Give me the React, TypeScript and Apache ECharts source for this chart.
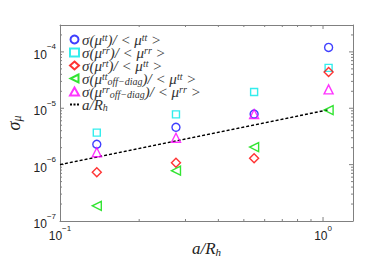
import React, { useEffect, useRef } from "react";
import * as echarts from "echarts";

const groupX = [0.138, 0.276, 0.547, 1.05];
const sigmaTT = [2.3e-6, 4.6e-6, 7.9e-6, 1.2e-4];
const sigmaRR = [3.7e-6, 7.8e-6, 1.94e-5, 5.2e-5];
const sigmaRT = [7.3e-7, 1.08e-6, 1.3e-6, 4.4e-5];
const sigmaOffTT = [1.86e-7, 7.8e-7, 2.05e-6, 9.3e-6];
const sigmaOffRR = [1.66e-6, 3.0e-6, 7.9e-6, 2.16e-5];
const lineX = [0.1, 1.05];
const lineY = [1.0e-6, 9.4e-6];

const seriesNames = ["s_tt", "s_rr", "s_rt", "s_off_tt", "s_off_rr", "a_Rh"];
const legendLabels = [
  "{n|σ(μ}{p|tt}{n|)/ < μ}{p|tt}{n| >}",
  "{n|σ(μ}{p|rr}{n|)/ < μ}{p|rr}{n| >}",
  "{n|σ(μ}{p|rt}{n|)/ < μ}{p|tt}{n| >}",
  "{n|σ(μ}{p|tt}{b|off−diag}{n|)/ < μ}{p|tt}{n| >}",
  "{n|σ(μ}{p|rr}{b|off−diag}{n|)/ < μ}{p|rr}{n| >}",
  "{n|a/R}{b|h}",
];
const xMinorTicks = [0.2, 0.3, 0.4, 0.5, 0.6, 0.7, 0.8, 0.9];
const xMajorTicks = [1];
const yMinorTicks = [
  2e-7, 3e-7, 4e-7, 5e-7, 6e-7, 7e-7, 8e-7, 9e-7,
  2e-6, 3e-6, 4e-6, 5e-6, 6e-6, 7e-6, 8e-6, 9e-6,
  2e-5, 3e-5, 4e-5, 5e-5, 6e-5, 7e-5, 8e-5, 9e-5,
  2e-4,
];
const yMajorTicks = [1e-6, 1e-5, 1e-4];

const X_MIN = 0.1;
const X_MAX = 1.3;
const Y_MIN = 1e-7;
const Y_MAX = 3e-4;

const leftTri = "path://M10,0 L0,5 L10,10 Z";
const dashIcon = "path://M0,4 L2,4 L2,6 L0,6 Z M3.5,4 L5.5,4 L5.5,6 L3.5,6 Z M7,4 L9,4 L9,6 L7,6 Z";

const isDecade = (v: number) => Math.abs(Math.log10(v) - Math.round(Math.log10(v))) < 1e-6;

export default function App() {
  const ref = useRef<HTMLDivElement>(null);
  useEffect(() => {
    if (!ref.current) return;
    const chart = echarts.init(ref.current, undefined, { renderer: "svg" });
    const pts = (ys: number[]) => groupX.map((x, i) => [x, ys[i]]);
    const axisCol = "#808080";
    const supLabel = (v: number) => {
      if (!isDecade(v)) return "";
      const e = Math.round(Math.log10(v));
      return `{b|10}{s|${e < 0 ? "−" + -e : e}}`;
    };
    const tickRich = {
      b: { fontFamily: "Liberation Sans", fontSize: 12, color: "#222", verticalAlign: "bottom", lineHeight: 18 },
      s: { fontFamily: "Liberation Sans", fontSize: 8, color: "#222", verticalAlign: "top", lineHeight: 18 },
    };
    const serif = "Liberation Serif";
    const scatter = (name: string, data: number[][], color: string, symbol: string, size: number) => ({
      name,
      type: "scatter",
      data,
      symbol,
      symbolSize: size,
      itemStyle: { color: "rgba(255,255,255,0)", borderColor: color, borderWidth: 1.4 },
      z: 5,
    });
    const tickSeries = (vals: number[], axis: "x" | "y", len: number) => ({
      type: "custom",
      silent: true,
      data: vals.map((v) => (axis === "x" ? [v, Y_MIN] : [X_MIN, v])),
      renderItem: (params: any, api: any) => {
        const cs = params.coordSys;
        const p = api.coord([api.value(0), api.value(1)]);
        const st = { stroke: axisCol, lineWidth: 1 };
        if (axis === "x") {
          return {
            type: "group",
            children: [
              { type: "line", shape: { x1: p[0], y1: cs.y + cs.height, x2: p[0], y2: cs.y + cs.height - len }, style: st },
              { type: "line", shape: { x1: p[0], y1: cs.y, x2: p[0], y2: cs.y + len }, style: st },
            ],
          };
        }
        return {
          type: "group",
          children: [
            { type: "line", shape: { x1: cs.x, y1: p[1], x2: cs.x + len, y2: p[1] }, style: st },
            { type: "line", shape: { x1: cs.x + cs.width, y1: p[1], x2: cs.x + cs.width - len, y2: p[1] }, style: st },
          ],
        };
      },
      z: 3,
    });
    chart.setOption({
      animation: false,
      backgroundColor: "#fff",
      grid: { left: 60, top: 25, right: 13, bottom: 40, outerBoundsMode: "none", containLabel: false },
      legend: {
        orient: "vertical",
        left: 64,
        top: 27,
        itemWidth: 9,
        itemHeight: 8,
        itemGap: -2,
        data: seriesNames.map((n, i) => (i === 5 ? { name: n, icon: dashIcon, itemStyle: { color: "#000", borderWidth: 0 } } : { name: n })),
        formatter: (name: string) => legendLabels[seriesNames.indexOf(name)],
        textStyle: {
          color: "#333",
          fontSize: 15,
          fontFamily: serif,
          padding: [0, 0, 0, -2],
          rich: {
            n: { fontFamily: serif, fontStyle: "italic", fontSize: 15, color: "#333", lineHeight: 15, verticalAlign: "bottom" },
            p: { fontFamily: serif, fontStyle: "italic", fontSize: 10, color: "#333", lineHeight: 15, verticalAlign: "top" },
            b: { fontFamily: serif, fontStyle: "italic", fontSize: 10, color: "#333", lineHeight: 15, verticalAlign: "bottom" },
          },
        },
      },
      xAxis: [
        {
          type: "log",
          min: X_MIN,
          max: X_MAX,
          logBase: 10,
          name: "{n|a/R}{b|h}",
          nameLocation: "middle",
          nameGap: 20,
          nameMoveOverlap: false,
          nameTextStyle: {
            rich: {
              n: { fontFamily: serif, fontStyle: "italic", fontSize: 17, color: "#222", verticalAlign: "bottom", lineHeight: 16 },
              b: { fontFamily: serif, fontStyle: "italic", fontSize: 11, color: "#222", verticalAlign: "bottom", lineHeight: 14 },
            },
          },
          axisLine: { lineStyle: { color: axisCol } },
          axisTick: { show: false },
          splitLine: { show: false },
          axisLabel: { formatter: supLabel, rich: tickRich, margin: 3, showMinLabel: true, showMaxLabel: false },
        },
        {
          type: "log",
          min: X_MIN,
          max: X_MAX,
          position: "top",
          axisLine: { lineStyle: { color: axisCol } },
          axisTick: { show: false },
          axisLabel: { show: false },
          splitLine: { show: false },
        },
      ],
      yAxis: [
        {
          type: "log",
          min: Y_MIN,
          max: Y_MAX,
          logBase: 10,
          name: "{n|σ}{b|μ}",
          nameLocation: "middle",
          nameGap: 22,
          nameTextStyle: {
            rich: {
              n: { fontFamily: serif, fontStyle: "italic", fontSize: 18, color: "#222", verticalAlign: "bottom", lineHeight: 22 },
              b: { fontFamily: serif, fontStyle: "italic", fontSize: 12, color: "#222", verticalAlign: "bottom", lineHeight: 18 },
            },
          },
          axisLine: { lineStyle: { color: axisCol } },
          axisTick: { show: false },
          splitLine: { show: false },
          axisLabel: { formatter: supLabel, rich: tickRich, margin: 4, showMaxLabel: false },
        },
        {
          type: "log",
          min: Y_MIN,
          max: Y_MAX,
          position: "right",
          axisLine: { lineStyle: { color: axisCol } },
          axisTick: { show: false },
          axisLabel: { show: false },
          splitLine: { show: false },
        },
      ],
      series: [
        scatter(seriesNames[0], pts(sigmaTT), "#1010ff", "circle", 8),
        scatter(seriesNames[1], pts(sigmaRR), "#00e8e8", "rect", 7),
        scatter(seriesNames[2], pts(sigmaRT), "#ff0000", "diamond", 9),
        scatter(seriesNames[3], pts(sigmaOffTT), "#00dd00", leftTri, 9),
        scatter(seriesNames[4], pts(sigmaOffRR), "#ff00ff", "triangle", 9),
        {
          name: seriesNames[5],
          type: "line",
          data: lineX.map((x, i) => [x, lineY[i]]),
          symbol: "none",
          lineStyle: { color: "#000", width: 1.5, type: [3, 2] },
          itemStyle: { color: "#000" },
          z: 4,
        },
        tickSeries(xMinorTicks, "x", 2),
        tickSeries(xMajorTicks, "x", 4),
        tickSeries(yMinorTicks, "y", 2),
        tickSeries(yMajorTicks, "y", 4),
      ],
    });
    return () => chart.dispose();
  }, []);
  return <div ref={ref} style={{ width: 366, height: 261, position: "absolute", left: 0, top: 0 }} />;
}
